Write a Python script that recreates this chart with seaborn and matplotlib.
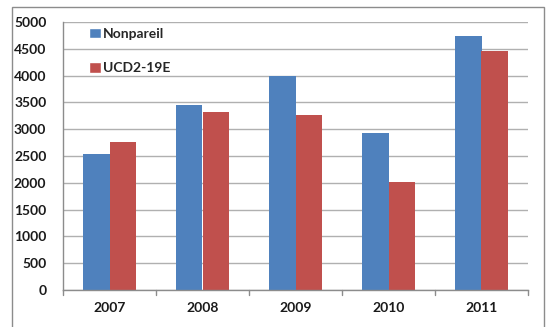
import matplotlib
matplotlib.use("Agg")
import matplotlib.pyplot as plt
from matplotlib.patches import Rectangle
from matplotlib.lines import Line2D
import seaborn as sns
import pandas as pd

years = ["2007", "2008", "2009", "2010", "2011"]
nonpareil = [2540, 3460, 4000, 2920, 4740]
ucd2_19e = [2760, 3320, 3270, 2010, 4450]
series_names = ["Nonpareil", "UCD2-19E"]
colors = ["#4F81BD", "#C0504D"]

df = pd.DataFrame({
    "year": years * 2,
    "value": nonpareil + ucd2_19e,
    "variety": [series_names[0]] * len(years) + [series_names[1]] * len(years),
})

sns.set_style("white")
plt.rcParams["font.family"] = ["Lato", "DejaVu Sans"]

W, H = 551, 327
fig = plt.figure(figsize=(W / 100, H / 100), dpi=100)
fig.patch.set_facecolor("white")

# outer chart frame
fig.patches.append(Rectangle((12 / W, -0.02), (544 - 12) / W, (H - 7) / H + 0.02,
                             transform=fig.transFigure, fill=False,
                             edgecolor="#8c8c8c", linewidth=1.0))

ax = fig.add_axes([63 / W, (H - 290) / H, (528 - 63) / W, (290 - 22) / H])
sns.barplot(data=df, x="year", y="value", hue="variety", palette=colors,
            width=0.56, gap=0, saturation=1, linewidth=0, edgecolor="none",
            ax=ax, legend=False)

ax.set_ylim(0, 5000)
ax.set_yticks(range(0, 5001, 500))
ax.set_xlim(-0.5, 4.5)
ax.set_xlabel("")
ax.set_ylabel("")
ax.yaxis.grid(True, color="#b0b0b0", linewidth=1.0)
ax.set_axisbelow(True)
for side in ["top", "right"]:
    ax.spines[side].set_visible(False)
for side in ["left", "bottom"]:
    ax.spines[side].set_color("#8c8c8c")
    ax.spines[side].set_linewidth(1.0)

ax.tick_params(axis="y", length=5, color="#8c8c8c", pad=7, labelsize=10)
ax.tick_params(axis="x", length=0, pad=9, labelsize=10)
for lbl in ax.get_xticklabels() + ax.get_yticklabels():
    lbl.set_fontweight("bold")
    lbl.set_color("#1a1a1a")

# category-boundary ticks on the x axis
for b in [-0.5, 0.5, 1.5, 2.5, 3.5, 4.5]:
    ax.add_line(Line2D([b, b], [0, -0.018], transform=ax.get_xaxis_transform(),
                       color="#8c8c8c", linewidth=1.0, clip_on=False))

handles = [Rectangle((0, 0), 1, 1, facecolor=c) for c in colors]
leg = ax.legend(handles, series_names, loc="upper left",
                bbox_to_anchor=(0.03, 1.025), frameon=False,
                handlelength=0.8, handleheight=0.8, handletextpad=0.2,
                labelspacing=1.6, prop={"weight": "bold", "size": 10})

fig.savefig("out.png", dpi=100, facecolor="white")
